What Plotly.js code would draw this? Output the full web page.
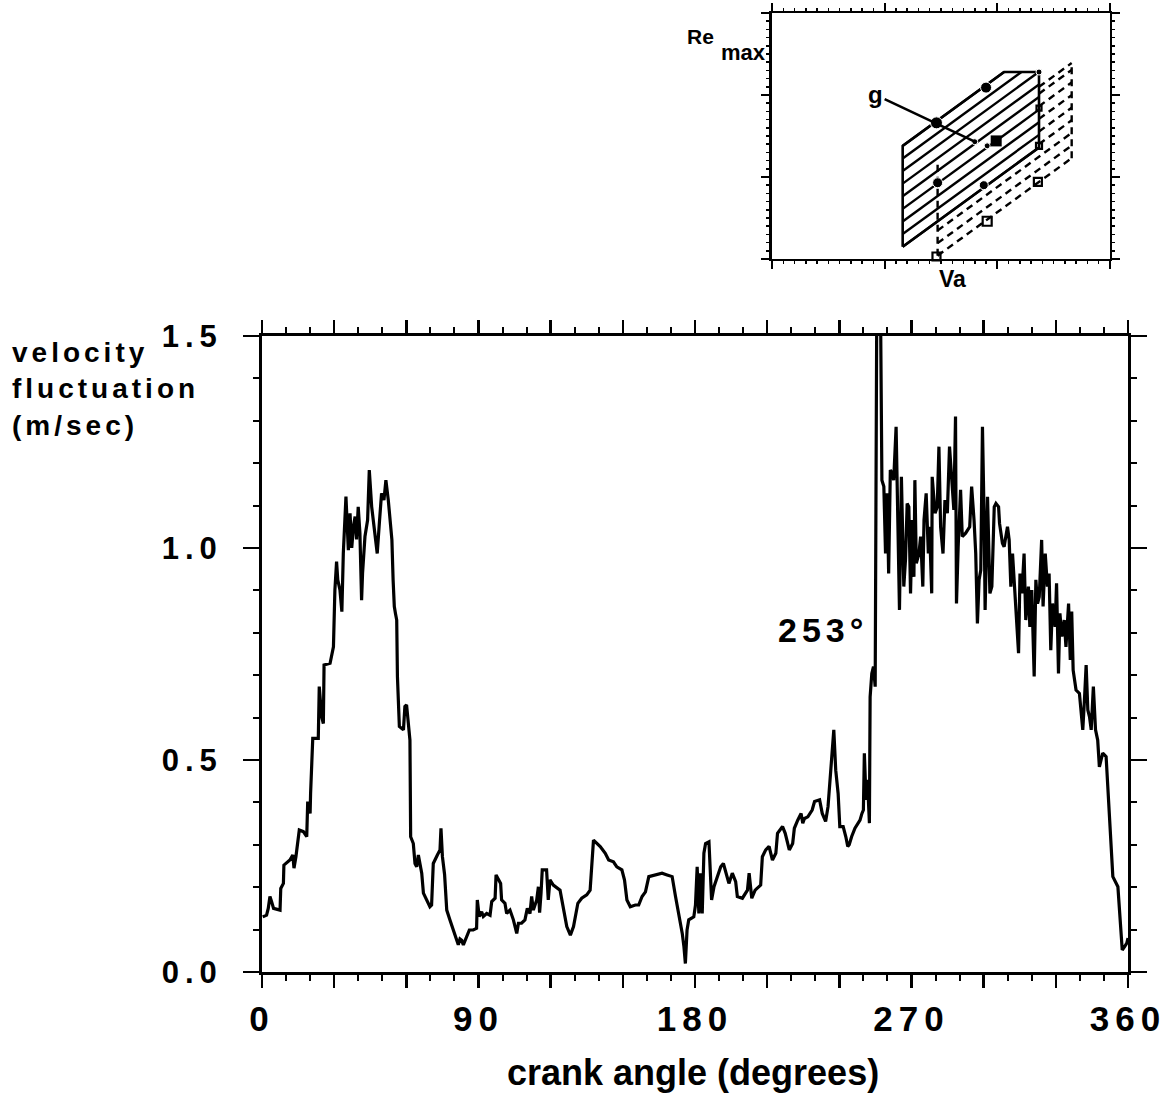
<!DOCTYPE html>
<html>
<head>
<meta charset="utf-8">
<script src="https://cdn.plot.ly/plotly-3.0.1.min.js"></script>
<style>
  html, body { margin: 0; padding: 0; background: #fff; }
  #chart { width: 1174px; height: 1094px; }
  #chart .xtick text { letter-spacing: 6px; }
  #chart .ytick text { letter-spacing: 6px; }
  #chart .annotation[data-index="0"] text { letter-spacing: 4px; }
  #chart .annotation[data-index="2"] text { letter-spacing: 5px; }
</style>
</head>
<body>
<div id="chart"></div>
<script>
// Velocity fluctuation over one engine cycle (crank angle in degrees, m/sec)
const crankAngle = [
  0.3, 1.9, 2.6, 3.3, 4.0, 4.8, 7.5, 7.8, 8.9, 9.1, 11.6, 12.8, 13.3, 14.1, 15.5, 17.2, 18.6, 19.0, 20.0, 20.2,
  21.1, 23.4, 23.8, 24.8, 25.5, 25.8, 28.3, 29.7, 30.3, 31.0, 31.5, 32.4, 33.2, 33.8, 34.9, 35.9, 36.6, 37.3, 38.0, 38.7,
  39.3, 40.0, 40.7, 41.4, 41.8, 42.8, 43.9, 44.6, 45.6, 46.3, 47.0, 47.9, 48.8, 49.7, 50.7, 51.5, 52.5, 53.3, 54.0, 54.5,
  55.0, 55.5, 56.0, 56.3, 57.1, 58.8, 59.4, 60.1, 60.8, 61.5, 61.8, 62.9, 63.6, 64.3, 65.0, 65.6, 66.4, 67.1, 68.4, 69.8,
  70.5, 71.2, 72.9, 74.0, 74.4, 75.0, 75.9, 76.8, 78.1, 79.5, 80.9, 81.6, 82.3, 83.0, 83.7, 85.1, 86.2, 87.8, 89.2, 89.5,
  90.3, 91.3, 92.0, 93.4, 94.8, 95.5, 96.9, 97.3, 98.2, 99.2, 99.6, 101.0, 101.7, 103.1, 104.5, 105.9, 106.6, 107.9, 109.3, 110.3,
  111.4, 112.1, 112.8, 114.2, 114.9, 115.4, 116.0, 116.5, 118.3, 119.0, 119.7, 121.1, 123.9, 125.3, 126.7, 128.2, 129.5, 131.3, 132.9, 135.0,
  136.4, 137.8, 139.2, 140.6, 142.7, 144.1, 146.1, 147.5, 149.6, 150.7, 151.7, 153.1, 155.2, 156.6, 158.0, 159.4, 160.8, 163.5, 166.3, 168.4,
  170.5, 171.9, 173.3, 174.7, 175.4, 176.0, 176.7, 177.4, 179.5, 180.2, 180.9, 181.6, 182.3, 183.0, 183.7, 184.4, 185.8, 186.9, 187.9, 189.3,
  190.7, 191.8, 192.8, 194.1, 195.5, 196.9, 197.6, 199.7, 201.8, 202.5, 203.6, 205.0, 207.3, 208.0, 209.4, 210.8, 212.2, 213.6, 214.3, 216.4,
  217.5, 219.2, 220.6, 221.3, 222.7, 224.1, 224.8, 225.5, 226.9, 228.7, 229.7, 231.8, 232.9, 234.3, 235.3, 236.7, 237.7, 238.5, 239.5, 240.2,
  241.6, 242.7, 243.5, 244.1, 245.1, 246.5, 248.6, 249.4, 250.0, 250.4, 251.1, 251.7, 252.5, 252.8, 253.5, 254.2, 254.9, 255.6, 257.0, 257.7,
  258.5, 259.2, 259.9, 260.5, 261.2, 261.9, 262.6, 263.6, 264.4, 265.0, 265.8, 266.8, 267.5, 268.2, 268.9, 269.6, 270.3, 271.0, 271.4, 272.0,
  273.1, 273.8, 274.7, 275.2, 276.1, 277.0, 277.5, 278.4, 278.6, 279.8, 280.7, 281.4, 282.1, 283.1, 283.9, 284.9, 285.8, 286.9, 287.6, 288.3,
  288.7, 289.4, 290.4, 291.1, 292.5, 294.2, 295.0, 296.0, 296.7, 297.4, 298.1, 298.8, 299.5, 300.2, 300.6, 301.6, 302.6, 303.4, 304.4, 305.1,
  306.2, 306.6, 307.8, 308.5, 309.9, 310.6, 311.3, 312.0, 313.4, 314.5, 315.1, 315.9, 316.8, 317.5, 318.6, 319.2, 320.0, 321.0, 321.7, 322.4,
  323.1, 324.1, 324.7, 325.6, 326.5, 327.2, 327.9, 328.6, 329.7, 330.3, 331.1, 331.7, 332.5, 333.5, 334.2, 335.3, 336.0, 336.6, 337.2, 338.4,
  339.8, 341.2, 341.9, 342.6, 343.3, 344.0, 344.7, 345.6, 346.5, 347.4, 348.1, 349.5, 350.9, 352.0, 353.0, 353.7, 355.8, 356.5, 357.6, 358.6,
  359.5, 360.0
];
const velocity = [
  0.130, 0.134, 0.150, 0.178, 0.166, 0.150, 0.146, 0.197, 0.209, 0.252, 0.264, 0.276, 0.245, 0.272, 0.335, 0.331, 0.319, 0.402, 0.374, 0.421,
  0.551, 0.551, 0.673, 0.602, 0.586, 0.724, 0.728, 0.767, 0.901, 0.968, 0.925, 0.901, 0.850, 0.987, 1.121, 0.995, 1.082, 1.000, 1.050, 1.074,
  1.020, 1.097, 1.035, 0.877, 0.940, 1.027, 1.066, 1.184, 1.097, 1.066, 1.027, 0.987, 1.060, 1.129, 1.113, 1.160, 1.113, 1.066, 1.019, 0.925,
  0.862, 0.845, 0.830, 0.697, 0.579, 0.571, 0.626, 0.630, 0.594, 0.547, 0.319, 0.303, 0.256, 0.248, 0.276, 0.260, 0.233, 0.186, 0.170, 0.154,
  0.158, 0.256, 0.276, 0.288, 0.339, 0.272, 0.230, 0.146, 0.123, 0.099, 0.075, 0.064, 0.078, 0.075, 0.064, 0.083, 0.099, 0.099, 0.103, 0.170,
  0.131, 0.142, 0.131, 0.138, 0.134, 0.166, 0.174, 0.229, 0.221, 0.209, 0.170, 0.162, 0.138, 0.146, 0.123, 0.091, 0.115, 0.115, 0.123, 0.150,
  0.138, 0.178, 0.146, 0.170, 0.201, 0.140, 0.186, 0.241, 0.241, 0.170, 0.217, 0.205, 0.193, 0.154, 0.107, 0.087, 0.107, 0.162, 0.174, 0.182,
  0.193, 0.311, 0.303, 0.296, 0.280, 0.264, 0.260, 0.248, 0.241, 0.217, 0.170, 0.154, 0.158, 0.158, 0.178, 0.189, 0.225, 0.229, 0.233, 0.229,
  0.225, 0.178, 0.138, 0.091, 0.060, 0.020, 0.099, 0.123, 0.130, 0.158, 0.248, 0.138, 0.233, 0.138, 0.280, 0.303, 0.307, 0.170, 0.201, 0.225,
  0.248, 0.256, 0.233, 0.209, 0.233, 0.213, 0.178, 0.174, 0.193, 0.233, 0.174, 0.193, 0.205, 0.272, 0.288, 0.296, 0.264, 0.280, 0.327, 0.343,
  0.327, 0.288, 0.303, 0.339, 0.358, 0.374, 0.351, 0.362, 0.366, 0.382, 0.402, 0.406, 0.374, 0.355, 0.390, 0.484, 0.571, 0.476, 0.421, 0.343,
  0.343, 0.319, 0.296, 0.300, 0.319, 0.339, 0.358, 0.374, 0.382, 0.516, 0.406, 0.453, 0.351, 0.649, 0.704, 0.720, 0.673, 1.620, 1.650, 1.160,
  1.145, 0.987, 1.129, 0.940, 1.184, 1.176, 1.160, 1.286, 1.082, 0.854, 1.168, 0.909, 0.972, 1.105, 1.097, 0.893, 1.066, 0.932, 1.160, 0.964,
  0.987, 1.027, 0.909, 1.066, 1.129, 0.987, 1.050, 0.893, 1.168, 1.082, 1.097, 1.239, 1.050, 0.987, 1.113, 1.082, 1.239, 1.145, 1.090, 1.310,
  0.869, 1.003, 1.137, 1.027, 1.035, 1.050, 1.145, 1.066, 0.987, 0.822, 0.925, 0.948, 1.286, 1.066, 0.854, 1.121, 0.893, 0.909, 1.097, 1.105,
  1.097, 1.058, 1.011, 1.003, 1.050, 1.019, 0.909, 0.987, 0.869, 0.752, 0.940, 0.893, 0.987, 0.830, 0.909, 0.814, 0.901, 0.697, 0.925, 0.869,
  0.885, 1.019, 0.862, 0.987, 0.909, 0.940, 0.759, 0.869, 0.814, 0.917, 0.704, 0.846, 0.791, 0.830, 0.767, 0.869, 0.736, 0.850, 0.712, 0.665,
  0.657, 0.571, 0.642, 0.724, 0.618, 0.602, 0.571, 0.673, 0.571, 0.547, 0.484, 0.516, 0.508, 0.406, 0.311, 0.225, 0.201, 0.138, 0.052, 0.060,
  0.068, 0.080
];

// Schematic inset: Re_max against Va (arbitrary units on a 0..3 frame)
const solidRegionX = [1.16, 1.16, 2.06, 2.37, 2.37, 1.16];
const solidRegionY = [0.15, 1.38, 2.28, 2.28, 1.36, 0.15];
const dashedRegionX = [1.47, 1.47, 2.66, 2.66, 1.47];
const dashedRegionY = [0.04, 1.20, 2.39, 1.23, 0.04];
const filledPointX = [1.90, 1.46, 1.47, 1.88, 1.91, 1.80, 2.37];
const filledPointY = [2.09, 1.66, 0.93, 0.90, 1.38, 1.43, 2.28];
const filledPointSize = [11, 12, 10, 9, 6, 6, 6];
const squarePointX = [1.99];
const squarePointY = [1.44];
const openPointX = [2.37, 2.37, 2.36, 1.91, 1.46];
const openPointY = [1.84, 1.38, 0.94, 0.46, 0.03];
const openPointSize = [5, 6, 8, 9, 8];
const gPointer = { fromX: 0.92, fromY: 2.0, toX: 1.80, toY: 1.43 };

// Hatching of the solid region: lines parallel to its lower edge, clipped by the flat top
function solidHatch() {
  const x0 = solidRegionX[0], y0 = solidRegionY[0];
  const x1 = solidRegionX[4], y1 = solidRegionY[4];
  const topLeft = solidRegionY[1], cap = solidRegionY[2];
  const slope = (y1 - y0) / (x1 - x0);
  const n = 8, step = (topLeft - y0) / n;
  const xs = [], ys = [];
  for (let k = 0; k <= n; k++) {
    const ys0 = y0 + k * step;
    let xe = x1, ye = ys0 + slope * (x1 - x0);
    if (ye > cap) { ye = cap; xe = x0 + (cap - ys0) / slope; }
    xs.push(x0, xe, null); ys.push(ys0, ye, null);
  }
  return { xs, ys, step };
}
const sh = solidHatch();

// Dashed hatching of the region behind; hidden where the solid region covers it
function dashedHatch(step) {
  const x0 = dashedRegionX[0], yb = dashedRegionY[0], yt = dashedRegionY[1];
  const x1 = dashedRegionX[2];
  const slope = (dashedRegionY[3] - yb) / (x1 - x0);
  const sx0 = solidRegionX[0], sy0 = solidRegionY[0], sx1 = solidRegionX[4];
  const sSlope = (solidRegionY[4] - sy0) / (sx1 - sx0);
  const xs = [], ys = [];
  for (let y = yb; y <= yt + 1e-6; y += step) {
    const below = y < sy0 + sSlope * (x0 - sx0) - 0.02;
    const xs0 = below ? x0 : sx1;
    xs.push(xs0, x1, null);
    ys.push(y + slope * (xs0 - x0), y + slope * (x1 - x0), null);
  }
  const yTopRight = dashedRegionY[2];
  xs.push(sx1, x1, null);
  ys.push(yTopRight - slope * (x1 - sx1), yTopRight, null);
  xs.push(x0, x0, null, x1, x1);
  ys.push(yb, yt, null, dashedRegionY[3], yTopRight);
  return { xs, ys };
}
const dh = dashedHatch(sh.step);

const FONT = 'Liberation Sans, Arial, Helvetica, sans-serif';

const traces = [
  {
    x: crankAngle, y: velocity, type: 'scatter', mode: 'lines',
    line: { color: '#000', width: 3.2 }, xaxis: 'x', yaxis: 'y', hoverinfo: 'skip'
  },
  {
    x: dh.xs, y: dh.ys, type: 'scatter', mode: 'lines', xaxis: 'x2', yaxis: 'y2',
    line: { color: '#000', width: 2.4, dash: '7px,5px' }, connectgaps: false, hoverinfo: 'skip'
  },
  {
    x: sh.xs, y: sh.ys, type: 'scatter', mode: 'lines', xaxis: 'x2', yaxis: 'y2',
    line: { color: '#000', width: 2.4 }, connectgaps: false, hoverinfo: 'skip'
  },
  {
    x: solidRegionX, y: solidRegionY, type: 'scatter', mode: 'lines', xaxis: 'x2', yaxis: 'y2',
    line: { color: '#000', width: 2.6 }, hoverinfo: 'skip'
  },
  {
    x: filledPointX, y: filledPointY, type: 'scatter', mode: 'markers', xaxis: 'x2', yaxis: 'y2',
    marker: { symbol: 'circle', color: '#000', size: filledPointSize, opacity: 1 }, cliponaxis: false, hoverinfo: 'skip'
  },
  {
    x: squarePointX, y: squarePointY, type: 'scatter', mode: 'markers', xaxis: 'x2', yaxis: 'y2',
    marker: { symbol: 'square', color: '#000', size: 11, opacity: 1 }, cliponaxis: false, hoverinfo: 'skip'
  },
  {
    x: openPointX, y: openPointY, type: 'scatter', mode: 'markers', xaxis: 'x2', yaxis: 'y2',
    marker: { symbol: 'square-open', color: '#000', size: openPointSize, opacity: 1, line: { width: 2.2, color: '#000' } },
    cliponaxis: false, hoverinfo: 'skip'
  }
];

const mainAxisCommon = {
  showline: true, linecolor: '#000', linewidth: 3, mirror: 'allticks',
  ticks: 'outside', tickcolor: '#000', tickwidth: 2.5,
  showgrid: false, zeroline: false, fixedrange: true
};

const insetAxisCommon = {
  range: [0, 3], tickmode: 'linear', tick0: 0, dtick: 1,
  showline: true, linecolor: '#000', linewidth: 2.5, mirror: 'allticks',
  ticks: 'outside', ticklen: 8, tickwidth: 2, tickcolor: '#000',
  minor: { ticks: 'outside', dtick: 0.1, ticklen: 3, tickwidth: 1.5, tickcolor: '#000' },
  showticklabels: false, showgrid: false, zeroline: false, fixedrange: true
};

const layout = {
  width: 1174, height: 1094,
  margin: { l: 262, r: 46, t: 13, b: 122 },
  paper_bgcolor: '#fff', plot_bgcolor: 'rgba(0,0,0,0)',
  showlegend: false,
  font: { family: FONT, color: '#000' },
  xaxis: Object.assign({}, mainAxisCommon, {
    domain: [0, 1], anchor: 'y', range: [0, 360],
    tickmode: 'linear', tick0: 0, dtick: 30, ticklabelstep: 3, ticklen: 13,
    minor: { ticks: 'outside', dtick: 10, ticklen: 6, tickwidth: 2, tickcolor: '#000' },
    tickfont: { family: FONT, size: 35, weight: 'bold' }, ticklabelstandoff: 1
  }),
  yaxis: Object.assign({}, mainAxisCommon, {
    domain: [0, 0.6632], anchor: 'x', range: [0, 1.5],
    tickmode: 'linear', tick0: 0, dtick: 0.5, tickformat: '.1f', ticklen: 16,
    minor: { ticks: 'outside', dtick: 0.1, ticklen: 6, tickwidth: 2, tickcolor: '#000' },
    tickfont: { family: FONT, size: 31, weight: 'bold' }, ticklabelstandoff: 14
  }),
  xaxis2: Object.assign({}, insetAxisCommon, { domain: [0.5889, 0.9792], anchor: 'y2' }),
  yaxis2: Object.assign({}, insetAxisCommon, { domain: [0.7435, 1.0], anchor: 'x2' }),
  annotations: [
    {
      text: 'velocity<br>fluctuation<br>(m/sec)', xref: 'paper', yref: 'paper',
      x: -0.291, y: 0.6642, xanchor: 'left', yanchor: 'top', align: 'left', showarrow: false,
      font: { family: FONT, size: 28, weight: 'bold' }
    },
    {
      text: 'crank angle (degrees)', xref: 'paper', yref: 'paper',
      x: 0.4977, y: -0.1053, xanchor: 'center', yanchor: 'middle', showarrow: false,
      font: { family: FONT, size: 36, weight: 'bold' }
    },
    {
      text: '253°', xref: 'x', yref: 'y', x: 233.2, y: 0.807,
      xanchor: 'center', yanchor: 'middle', showarrow: false,
      font: { family: FONT, size: 34, weight: 'bold' }
    },
    {
      text: 'Re', xref: 'paper', yref: 'paper', x: 0.5242, y: 0.9760,
      xanchor: 'right', yanchor: 'middle', showarrow: false,
      font: { family: FONT, size: 21, weight: 'bold' }
    },
    {
      text: 'max', xref: 'paper', yref: 'paper', x: 0.5277, y: 0.9593,
      xanchor: 'left', yanchor: 'middle', showarrow: false,
      font: { family: FONT, size: 22, weight: 'bold' }
    },
    {
      text: 'Va', xref: 'paper', yref: 'paper', x: 0.7968, y: 0.7226,
      xanchor: 'center', yanchor: 'middle', showarrow: false,
      font: { family: FONT, size: 23, weight: 'bold' }
    },
    {
      text: 'g', xref: 'x2', yref: 'y2', x: gPointer.toX, y: gPointer.toY,
      axref: 'x2', ayref: 'y2', ax: gPointer.fromX, ay: gPointer.fromY,
      showarrow: true, arrowhead: 0, arrowwidth: 2.5, arrowcolor: '#000', standoff: 0,
      font: { family: FONT, size: 24, weight: 'bold' }
    }
  ]
};

Plotly.newPlot('chart', traces, layout, { displayModeBar: false, staticPlot: true });
</script>
</body>
</html>
